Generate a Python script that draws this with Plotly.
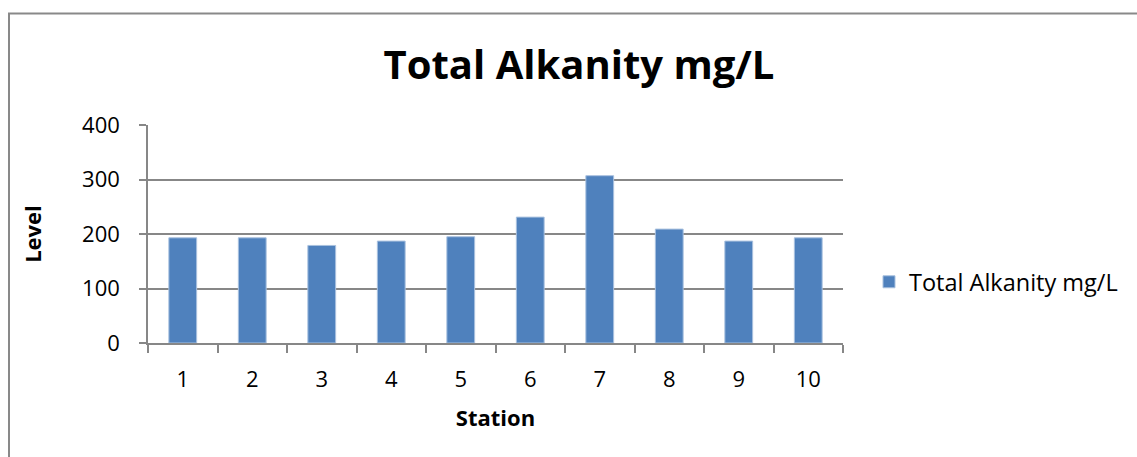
import plotly.graph_objects as go

# Total alkalinity per sampling station
stations = ["1", "2", "3", "4", "5", "6", "7", "8", "9", "10"]
alkalinity = [193, 193, 179, 187, 195, 231, 307, 209, 187, 193]
series_name = "Total Alkanity mg/L"

W, H = 1137, 457
L, R, T, B = 148, 843, 125, 343  # plot area in pixels
FONT = "Open Sans"
GRID = "#878787"


def px_x(p):
    return (p - L) / (R - L)


def px_y(p):
    return (B - p) / (B - T)


fig = go.Figure(
    go.Bar(
        x=stations,
        y=alkalinity,
        name=series_name,
        marker=dict(color="#4F81BD", line=dict(color="#A9C1DF", width=1)),
        showlegend=True,
    )
)

fig.update_layout(
    width=W,
    height=H,
    margin=dict(l=L, r=W - R, t=T, b=H - B, pad=0),
    paper_bgcolor="white",
    plot_bgcolor="white",
    bargap=0.6,
    font=dict(family=FONT, color="#000000"),
    title=dict(
        text="<b>Total Alkanity mg/L</b>",
        font=dict(family=FONT, size=40, color="#000000"),
        x=579 / W,
        xanchor="center",
        y=1 - 65 / H,
        yanchor="middle",
    ),
    legend=dict(
        xref="container",
        yref="container",
        x=869 / W,
        xanchor="left",
        y=1 - 282 / H,
        yanchor="middle",
        font=dict(family=FONT, size=23.5, color="#000000"),
        bgcolor="rgba(0,0,0,0)",
    ),
    xaxis=dict(
        type="category",
        showline=True,
        linecolor=GRID,
        linewidth=1.5,
        ticks="outside",
        tickson="boundaries",
        ticklen=8,
        tickcolor=GRID,
        tickwidth=1.5,
        tickfont=dict(family=FONT, size=22),
        ticklabelstandoff=16,
        title=dict(text="<b>Station</b>", font=dict(family=FONT, size=22), standoff=18),
        showgrid=False,
    ),
    yaxis=dict(
        range=[0, 400],
        tickvals=[0, 100, 200, 300, 400],
        showline=True,
        linecolor=GRID,
        linewidth=1.5,
        ticks="outside",
        ticklen=7,
        tickcolor=GRID,
        tickwidth=1.5,
        showgrid=True,
        gridcolor=GRID,
        gridwidth=1.5,
        zeroline=False,
        tickfont=dict(family=FONT, size=22),
        ticklabelstandoff=15,
        title=dict(text="<b>Level</b>", font=dict(family=FONT, size=22), standoff=34),
    ),
    shapes=[
        dict(
            type="rect",
            xref="paper",
            yref="paper",
            x0=px_x(9),
            x1=px_x(W + 5),
            y0=px_y(H + 5),
            y1=px_y(13.5),
            line=dict(color="#898989", width=2),
            fillcolor="rgba(0,0,0,0)",
            layer="below",
        )
    ],
)

fig.write_html("out.html")
